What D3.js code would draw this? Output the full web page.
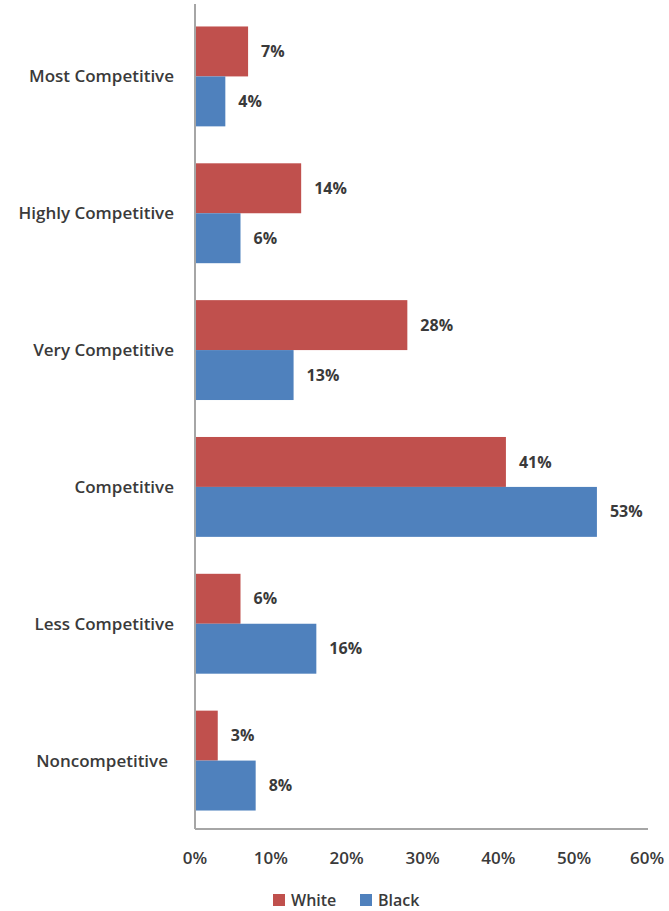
<!DOCTYPE html>
<html><head><meta charset="utf-8">
<script src="https://cdn.jsdelivr.net/npm/d3@7"></script>
<style>body{margin:0;background:#fff}svg{display:block}text{font-family:"Open Sans","Liberation Sans",sans-serif;fill:#3a3a3a}</style>
</head><body><div id="chart"></div>
<script>
const categories = ["Most Competitive","Highly Competitive","Very Competitive","Competitive","Less Competitive","Noncompetitive"];
const seriesNames = ["White","Black"];
const whiteValues = [7,14,28,41,6,3];
const blackValues = [4,6,13,53,16,8];
const xTicks = [0,10,20,30,40,50,60];
const colors = ["#C0504D","#4F81BD"];

const W = 669, H = 911;
const svg = d3.select("#chart").append("svg").attr("width", W).attr("height", H);
const x = d3.scaleLinear().domain([0,60]).range([195,650]);
const y = d3.scaleBand().domain(categories).range([8,829]).paddingInner(0.27).paddingOuter(0.135);
const y1 = d3.scaleBand().domain(seriesNames).range([0, y.bandwidth()]);

const data = categories.map((c,i)=>({cat:c, vals:[whiteValues[i], blackValues[i]]}));
const g = svg.append("g");
data.forEach(d=>{
  d.vals.forEach((v,j)=>{
    const yy = y(d.cat) + y1(seriesNames[j]);
    g.append("rect").attr("x", x(0)).attr("y", yy).attr("width", x(v)-x(0)).attr("height", y1.bandwidth()).attr("fill", colors[j]);
    g.append("text").attr("x", x(v)+13).attr("y", yy + y1.bandwidth()/2).attr("dy","0.35em")
      .attr("font-size",16).attr("font-weight",700).text(v+"%");
  });
});

// axes lines
svg.append("line").attr("x1",x(0)).attr("x2",x(0)).attr("y1",4).attr("y2",829).attr("stroke","#a6a6a6").attr("stroke-width",2);
svg.append("line").attr("x1",x(0)).attr("x2",648).attr("y1",829).attr("y2",829).attr("stroke","#a6a6a6").attr("stroke-width",2);

// category labels
categories.forEach(c=>{
  svg.append("text").attr("x",c==="Noncompetitive"?168:174).attr("y", y(c)+y.bandwidth()/2).attr("dy","0.35em").attr("text-anchor","end")
    .attr("font-size",17).attr("font-weight",600).text(c);
});

// x tick labels
xTicks.forEach(t=>{
  svg.append("text").attr("x", Math.min(x(t), 647)).attr("y",858).attr("dy","0.35em").attr("text-anchor","middle")
    .attr("font-size",17).attr("font-weight",600).text(t+"%");
});

// legend
const leg = [{n:"White",x:273},{n:"Black",x:360}];
leg.forEach((l,i)=>{
  svg.append("rect").attr("x",l.x).attr("y",894).attr("width",12).attr("height",12).attr("fill",colors[i]);
  svg.append("text").attr("x",l.x+18).attr("y",900).attr("dy","0.35em").attr("font-size",16).attr("font-weight",600).text(l.n);
});
</script></body></html>
